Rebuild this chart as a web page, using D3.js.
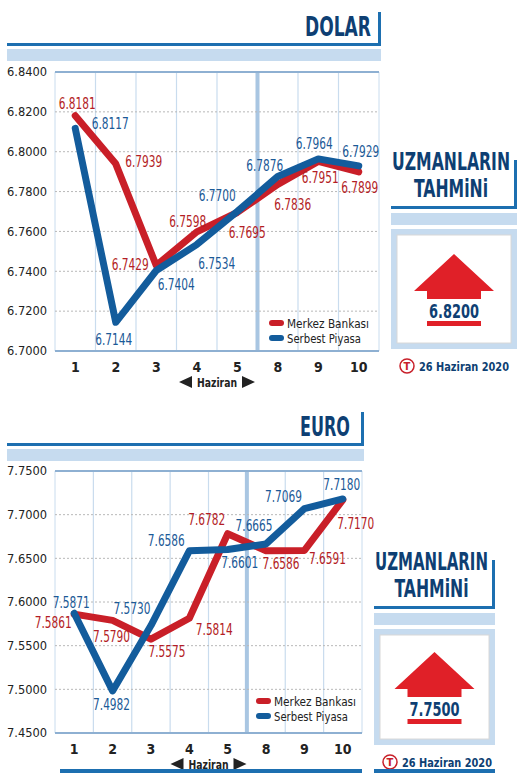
<!DOCTYPE html>
<html><head><meta charset="utf-8">
<script src="https://cdn.jsdelivr.net/npm/d3@7"></script>
<style>body{margin:0;background:#fff}svg{display:block}text{font-family:"DejaVu Sans Condensed","Liberation Sans Narrow",sans-serif}</style>
</head><body><svg id="c" width="526" height="781"></svg>
<script>
const days = ['1', '2', '3', '4', '5', '8', '9', '10'];
const dolarMerkez = [6.8181, 6.7939, 6.7429, 6.7598, 6.7695, 6.7836, 6.7951, 6.7899];
const dolarSerbest = [6.8117, 6.7144, 6.7404, 6.7534, 6.7700, 6.7876, 6.7964, 6.7929];
const dolarTicks = [6.70, 6.72, 6.74, 6.76, 6.78, 6.80, 6.82, 6.84];
const euroMerkez = [7.5861, 7.5790, 7.5575, 7.5814, 7.6782, 7.6586, 7.6591, 7.7170];
const euroSerbest = [7.5871, 7.4982, 7.5730, 7.6586, 7.6601, 7.6665, 7.7069, 7.7180];
const euroTicks = [7.45, 7.50, 7.55, 7.60, 7.65, 7.70, 7.75];
const dolarTahmin = 6.82, euroTahmin = 7.75;

// label offsets (px) from each point
const dolarMOff = [[2,-12],[28,-2],[-26,-1],[-9,-10],[10,21],[15,21],[2,17],[1,16]];
const dolarSOff = [[35,-4],[-2,18],[20,15],[20,19],[-20,-16],[-13,-10],[-4,-15],[2,-14]];
const euroMOff = [[-21,9],[-1,17],[16,13],[25,12],[-21,-14],[15,13],[23,9],[13,24]];
const euroSOff = [[-3,-10],[-1,14],[-19,-17],[-23,-10],[12,13],[-12,-18],[-21,-12],[-1,-14]];

const RED = '#c91f28', BLUE = '#135c9c', NAVY = '#0e3f73', LIGHT = '#c6dbef';
const svg = d3.select('#c');

function panel(o) {
  const g = svg.append('g');
  g.append('text').attr('x', o.titleR).attr('y', o.titleY).attr('text-anchor', 'end')
    .attr('font-size', 27).attr('font-weight', 'bold').attr('fill', NAVY)
    .attr('textLength', o.titleW).attr('lengthAdjust', 'spacingAndGlyphs').text(o.title);
  g.append('rect').attr('x', 7).attr('y', o.titleY + 7).attr('width', o.right - 5).attr('height', 3).attr('fill', '#1d6fb0');
  g.append('rect').attr('x', o.right - 1).attr('y', o.titleY - 24).attr('width', 3).attr('height', 34).attr('fill', '#1d6fb0');
  g.append('rect').attr('x', 7).attr('y', o.titleY + 13).attr('width', o.right - 5).attr('height', 12).attr('fill', LIGHT);

  const x = d3.scaleBand().domain(days).range([55, o.right]);
  const y = d3.scaleLinear().domain(d3.extent(o.ticks)).range([o.bottom, o.top]);
  const cx = d => x(d) + x.bandwidth() / 2;

  g.selectAll('.vg').data(days.slice(1)).join('line')
    .attr('x1', d => x(d)).attr('x2', d => x(d)).attr('y1', o.top).attr('y2', o.bottom)
    .attr('stroke', d => d === '8' ? '#a9c6e2' : '#c9dcee').attr('stroke-width', d => d === '8' ? 4 : 1.2);
  g.append('line').attr('x1', 55).attr('x2', 55).attr('y1', o.top).attr('y2', o.bottom).attr('stroke', '#c9dcee');
  g.append('line').attr('x1', o.right).attr('x2', o.right).attr('y1', o.top).attr('y2', o.bottom).attr('stroke', '#c9dcee');
  g.selectAll('.hg').data(o.ticks.slice(1, -1)).join('line')
    .attr('x1', 55).attr('x2', o.right).attr('y1', y).attr('y2', y)
    .attr('stroke', '#b8b8b8').attr('stroke-dasharray', '2,2');
  [o.top, o.bottom].forEach(v => g.append('line').attr('x1', 55).attr('x2', o.right).attr('y1', v).attr('y2', v)
    .attr('stroke', '#8eb0d2').attr('stroke-width', 2));

  const ya = g.append('g').attr('transform', 'translate(47,0)')
    .call(d3.axisLeft(y).tickValues(o.ticks).tickFormat(d3.format('.4f')).tickSize(0));
  ya.select('.domain').remove();
  ya.selectAll('text').attr('font-size', 12).attr('fill', '#222').attr('x', 0)
    .attr('textLength', 40).attr('lengthAdjust', 'spacingAndGlyphs');
  const xa = g.append('g').attr('transform', `translate(0,${o.bottom + 8})`)
    .call(d3.axisBottom(x).tickSize(0));
  xa.select('.domain').remove();
  xa.selectAll('text').attr('font-size', 14).attr('font-weight', 'bold').attr('fill', '#222');
  const hx = (cx('4') + cx('5')) / 2, hy = o.bottom + 31;
  g.append('text').attr('x', hx).attr('y', hy + 5).attr('text-anchor', 'middle').attr('font-size', 13)
    .attr('font-weight', 'bold').attr('fill', '#222').attr('textLength', 40).attr('lengthAdjust', 'spacingAndGlyphs').text('Haziran');
  g.append('path').attr('d', `M${hx - 38},${hy} l13,-6 v12 z M${hx + 38},${hy} l-13,-6 v12 z`).attr('fill', '#222');

  const line = d3.line().x((d, i) => cx(days[i])).y(d => y(d));
  [[o.merkez, RED], [o.serbest, BLUE]].forEach(([s, c]) =>
    g.append('path').datum(s).attr('d', line).attr('fill', 'none').attr('stroke', c)
      .attr('stroke-width', 7).attr('stroke-linejoin', 'round').attr('stroke-linecap', 'round'));

  [[o.merkez, o.mOff, '#b31d25'], [o.serbest, o.sOff, '#1b5a97']].forEach(([s, off, c]) =>
    g.selectAll(null).data(s).join('text')
      .attr('x', (d, i) => cx(days[i]) + off[i][0]).attr('y', (d, i) => y(d) + off[i][1] + 5)
      .attr('text-anchor', 'middle').attr('font-size', 15).attr('fill', c)
      .attr('textLength', 37).attr('lengthAdjust', 'spacingAndGlyphs').text(d => d.toFixed(4)));

  [['Merkez Bankası', RED], ['Serbest Piyasa', BLUE]].forEach(([t, c], i) => {
    const ly = o.legY + i * 15;
    g.append('line').attr('x1', o.legX).attr('x2', o.legX + 9).attr('y1', ly).attr('y2', ly)
      .attr('stroke', c).attr('stroke-width', 6).attr('stroke-linecap', 'round');
    g.append('text').attr('x', o.legX + 15).attr('y', ly + 5).attr('font-size', 13).attr('fill', '#222')
      .attr('textLength', i ? 74 : 82).attr('lengthAdjust', 'spacingAndGlyphs').text(t);
  });

  const L = o.pL, W = o.pW, t = o.pTop;
  [['UZMANLARIN', 0, W - 8], ['TAHMiNi', 27, 74]].forEach(([s, dy, w]) =>
    g.append('text').attr('x', L + W / 2 - 3).attr('y', t + dy).attr('text-anchor', 'middle').attr('font-size', 24)
      .attr('font-weight', 'bold').attr('fill', NAVY).attr('textLength', w).attr('lengthAdjust', 'spacingAndGlyphs').text(s));
  g.append('rect').attr('x', L).attr('y', t + 36).attr('width', W).attr('height', 3).attr('fill', '#1d6fb0');
  g.append('rect').attr('x', L + W - 3).attr('y', t - 10).attr('width', 3).attr('height', 49).attr('fill', '#1d6fb0');
  g.append('rect').attr('x', L).attr('y', t + 43).attr('width', W).attr('height', 12).attr('fill', LIGHT);
  g.append('rect').attr('x', L).attr('y', t + 59).attr('width', W).attr('height', o.boxH).attr('fill', LIGHT);
  g.append('rect').attr('x', L + 6).attr('y', t + 65).attr('width', W - 12).attr('height', o.boxH - 12)
    .attr('fill', '#fff').attr('stroke', '#d8d8d8');
  const ax = L + W / 2, ay = t + 59 + o.boxH / 2 - 35;
  g.append('path').attr('d', `M${ax},${ay} L${ax + 40},${ay + 37} H${ax + 27} V${ay + 45} H${ax - 27} V${ay + 37} H${ax - 40} Z`)
    .attr('fill', '#e02028');
  g.append('text').attr('x', ax).attr('y', ay + 64).attr('text-anchor', 'middle').attr('font-size', 19)
    .attr('font-weight', 'bold').attr('fill', NAVY).attr('textLength', 50).attr('lengthAdjust', 'spacingAndGlyphs').text(o.tahmin.toFixed(4));
  g.append('rect').attr('x', ax - 27).attr('y', ay + 67).attr('width', 54).attr('height', 5).attr('fill', '#e02028');
  const dy = t + 59 + o.boxH + 22;
  g.append('circle').attr('cx', L + 16).attr('cy', dy - 5).attr('r', 7).attr('fill', '#fff').attr('stroke', '#c8202a').attr('stroke-width', 1.5);
  g.append('text').attr('x', L + 16).attr('y', dy - 1).attr('text-anchor', 'middle').attr('font-size', 11)
    .attr('font-weight', 'bold').attr('fill', '#c8202a').text('T');
  g.append('text').attr('x', L + 28).attr('y', dy).attr('font-size', 13).attr('font-weight', 'bold')
    .attr('fill', NAVY).attr('textLength', 90).attr('lengthAdjust', 'spacingAndGlyphs').text('26 Haziran 2020');
}

panel({title: 'DOLAR', titleR: 371, titleY: 36, titleW: 66, right: 379, top: 72, bottom: 351, ticks: dolarTicks,
  merkez: dolarMerkez, serbest: dolarSerbest, mOff: dolarMOff, sOff: dolarSOff, legX: 272, legY: 323,
  pL: 391, pW: 126, pTop: 170, boxH: 120, tahmin: dolarTahmin});
panel({title: 'EURO', titleR: 350, titleY: 436, titleW: 50, right: 362, top: 471, bottom: 733, ticks: euroTicks,
  merkez: euroMerkez, serbest: euroSerbest, mOff: euroMOff, sOff: euroSOff, legX: 259, legY: 701,
  pL: 374, pW: 121, pTop: 570, boxH: 116, tahmin: euroTahmin});
svg.append('rect').attr('x', 60).attr('y', 769).attr('width', 302).attr('height', 4).attr('fill', '#1d6fb0');
svg.append('rect').attr('x', 374).attr('y', 769).attr('width', 121).attr('height', 4).attr('fill', '#1d6fb0');
</script></body></html>
